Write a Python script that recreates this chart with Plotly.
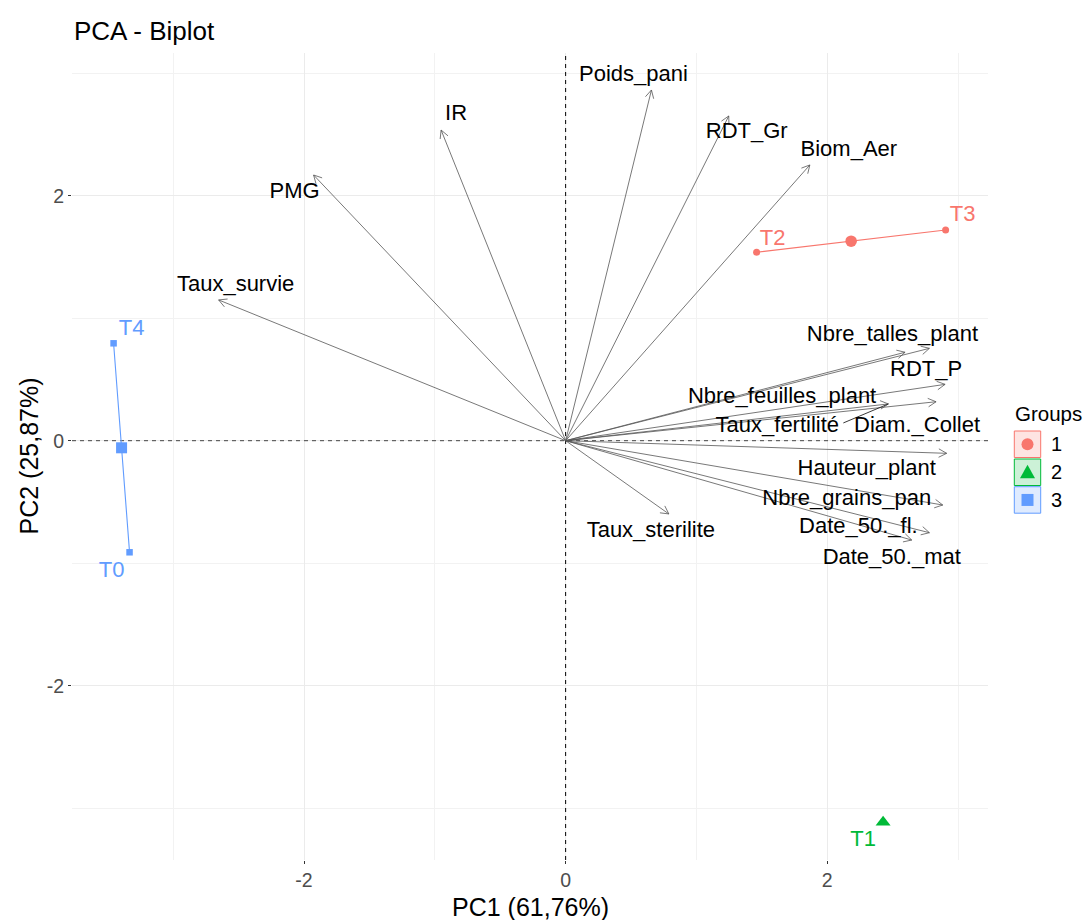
import numpy as np
import plotly.graph_objects as go

# ---------------- data ----------------
ind_names = ["T0", "T1", "T2", "T3", "T4"]
ind_pc1 = [-3.334, 2.427, 1.460, 2.905, -3.456]
ind_pc2 = [-0.911, -3.115, 1.538, 1.720, 0.795]
ind_group = [3, 2, 1, 1, 3]

var_names = ["Poids_pani", "RDT_Gr", "Biom_Aer", "IR", "PMG", "Taux_survie",
             "Nbre_talles_plant", "RDT_P", "Nbre_feuilles_plant", "Taux_fertilité",
             "Diam._Collet", "Hauteur_plant", "Nbre_grains_pan", "Date_50._fl.",
             "Date_50._mat", "Taux_sterilite"]
var_pc1 = [0.656, 1.247, 1.867, -0.952, -1.927, -2.653,
           2.781, 2.901, 2.595, 2.467,
           2.832, 2.913, 2.883, 2.781,
           2.646, 0.789]
var_pc2 = [2.863, 2.651, 2.251, 2.536, 2.169, 1.149,
           0.754, 0.460, 0.722, 0.300,
           0.318, -0.103, -0.525, -0.751,
           -0.811, -0.598]

groups = [1, 2, 3]
group_colors = {1: "#F8766D", 2: "#00BA38", 3: "#619CFF"}
group_fills = {1: "#FEE4E2", 2: "#CCF1D7", 3: "#DFEBFF"}
group_symbols = {1: "circle", 2: "triangle-up", 3: "square"}

tick_vals = [-2, 0, 2]
tick_text = ["-2", "0", "2"]

x_title = "PC1 (61,76%)"
y_title = "PC2 (25,87%)"
title = "PCA - Biplot"

# ---------------- layout geometry ----------------
W, H = 1086, 920
L, R, T, B = 72, 98, 53, 60
XR = [-3.774, 3.229]
YR = [-3.423, 3.165]
pw, ph = W - L - R, H - T - B
sx = pw / (XR[1] - XR[0])   # px per unit
sy = ph / (YR[1] - YR[0])

# label offsets in pixels (dx right, dy down) relative to the point / arrow tip
var_label_off = {
    "Poids_pani": (-18, -14), "RDT_Gr": (18, 17), "Biom_Aer": (39, -14),
    "IR": (15, -16), "PMG": (-19, 17), "Taux_survie": (17, -14),
    "Nbre_talles_plant": (-37, -13), "RDT_P": (-19, -14),
    "Nbre_feuilles_plant": (-123, 45), "Taux_fertilité": (-111, 23),
    "Diam._Collet": (-19, 25), "Hauteur_plant": (-80, 16),
    "Nbre_grains_pan": (-96, -6), "Date_50._fl.": (-71, -5),
    "Date_50._mat": (-20, 18), "Taux_sterilite": (-18, 18),
}
ind_label_off = {"T0": (-18, 19), "T1": (-20, 18), "T2": (16, -13),
                 "T3": (17, -15), "T4": (18, -14)}
repel_segments = {"Taux_fertilité": (-45, 19)}

FONT = "Liberation Sans, Arial, sans-serif"


def off(x, y, d):
    return x + d[0] / sx, y - d[1] / sy


def px2paper(px, py):
    return (px - L) / pw, (H - B - py) / ph


fig = go.Figure()

# dashed reference lines (drawn first, under everything else)
fig.add_trace(go.Scatter(x=[0, 0], y=YR, mode="lines",
                         line=dict(color="black", width=1, dash="4px,4px"),
                         hoverinfo="skip", showlegend=False))
fig.add_trace(go.Scatter(x=XR, y=[0, 0], mode="lines",
                         line=dict(color="#444444", width=1, dash="4px,4px"),
                         hoverinfo="skip", showlegend=False))

# variable arrows (lines + open heads)
ax_, ay_ = [], []
head_len, ang = 9.0, np.deg2rad(28)
for vx, vy in zip(var_pc1, var_pc2):
    ax_ += [0, vx, None]
    ay_ += [0, vy, None]
    ux, uy = vx * sx, vy * sy
    n = np.hypot(ux, uy)
    ux, uy = ux / n, uy / n
    for s in (1, -1):
        c, si = np.cos(s * ang), np.sin(s * ang)
        rx, ry = ux * c - uy * si, ux * si + uy * c
        hx = vx - head_len * rx / sx
        hy = vy - head_len * ry / sy
        ax_ += [hx, vx, None]
        ay_ += [hy, vy, None]
fig.add_trace(go.Scatter(x=ax_, y=ay_, mode="lines",
                         line=dict(color="#555555", width=0.8),
                         hoverinfo="skip", showlegend=False))

# repel segment(s)
for name, d in repel_segments.items():
    i = var_names.index(name)
    x2, y2 = off(var_pc1[i], var_pc2[i], d)
    fig.add_trace(go.Scatter(x=[var_pc1[i], x2], y=[var_pc2[i], y2], mode="lines",
                             line=dict(color="#222222", width=0.9),
                             hoverinfo="skip", showlegend=False))

# variable labels
lx, ly = [], []
for n_, vx, vy in zip(var_names, var_pc1, var_pc2):
    a, b = off(vx, vy, var_label_off[n_])
    lx.append(a)
    ly.append(b)
fig.add_trace(go.Scatter(x=lx, y=ly, mode="text", text=var_names,
                         textposition="middle center",
                         textfont=dict(family=FONT, size=22, color="black"),
                         hoverinfo="skip", showlegend=False))

# individuals per group
for g in groups:
    idx = [i for i, gg in enumerate(ind_group) if gg == g]
    xs = [ind_pc1[i] for i in idx]
    ys = [ind_pc2[i] for i in idx]
    col = group_colors[g]
    if len(idx) > 1:
        fig.add_trace(go.Scatter(x=xs + [xs[0]], y=ys + [ys[0]], mode="lines",
                                 line=dict(color=col, width=1.1),
                                 hoverinfo="skip", showlegend=False))
    size = 13 if g == 2 else (7 if g == 1 else 6.5)
    fig.add_trace(go.Scatter(x=xs, y=ys, mode="markers",
                             marker=dict(color=col, symbol=group_symbols[g], size=size,
                                         line=dict(width=0)),
                             hoverinfo="skip", showlegend=False))
    if len(idx) > 1:
        fig.add_trace(go.Scatter(x=[float(np.mean(xs))], y=[float(np.mean(ys))], mode="markers",
                                 marker=dict(color=col, symbol=group_symbols[g],
                                             size=11.5 if g == 1 else 11, line=dict(width=0)),
                                 hoverinfo="skip", showlegend=False))
    tx, ty = [], []
    for i in idx:
        a, b = off(ind_pc1[i], ind_pc2[i], ind_label_off[ind_names[i]])
        tx.append(a)
        ty.append(b)
    fig.add_trace(go.Scatter(x=tx, y=ty, mode="text", text=[ind_names[i] for i in idx],
                             textposition="middle center",
                             textfont=dict(family=FONT, size=22, color=col),
                             hoverinfo="skip", showlegend=False))

# ---------------- manual legend ----------------
shapes = []
annots = []
annots.append(dict(text="Groups", x=px2paper(1013, 0)[0], y=px2paper(0, 413)[1],
                   xref="paper", yref="paper", xanchor="left", yanchor="middle",
                   showarrow=False, font=dict(family=FONT, size=20.5, color="black")))
key_tops = [431, 459, 486.7]
key_h = 26.5
kx0, kx1 = 1014.3, 1040.7
for g, top in zip(groups, key_tops):
    x0, y1 = px2paper(kx0, top)
    x1, y0 = px2paper(kx1, top + key_h)
    shapes.append(dict(type="rect", xref="paper", yref="paper", x0=x0, x1=x1, y0=y0, y1=y1,
                       fillcolor=group_fills[g], line=dict(color=group_colors[g], width=1)))
    cx, cy = (kx0 + kx1) / 2, top + key_h / 2
    if group_symbols[g] == "circle":
        a0, b1 = px2paper(cx - 6, cy - 6)
        a1, b0 = px2paper(cx + 6, cy + 6)
        shapes.append(dict(type="circle", xref="paper", yref="paper", x0=a0, x1=a1, y0=b0, y1=b1,
                           fillcolor=group_colors[g], line=dict(width=0)))
    elif group_symbols[g] == "square":
        a0, b1 = px2paper(cx - 6, cy - 6)
        a1, b0 = px2paper(cx + 6, cy + 6)
        shapes.append(dict(type="rect", xref="paper", yref="paper", x0=a0, x1=a1, y0=b0, y1=b1,
                           fillcolor=group_colors[g], line=dict(width=0)))
    else:
        p1 = px2paper(cx, cy - 7.5)
        p2 = px2paper(cx - 7.5, cy + 6)
        p3 = px2paper(cx + 7.5, cy + 6)
        path = "M {} {} L {} {} L {} {} Z".format(p1[0], p1[1], p2[0], p2[1], p3[0], p3[1])
        shapes.append(dict(type="path", xref="paper", yref="paper", path=path,
                           fillcolor=group_colors[g], line=dict(width=0)))
    annots.append(dict(text=str(g), x=px2paper(1049, 0)[0], y=px2paper(0, cy)[1],
                       xref="paper", yref="paper", xanchor="left", yanchor="middle",
                       showarrow=False, font=dict(family=FONT, size=20, color="black")))

# title and axis titles
annots.append(dict(text=title, x=px2paper(72, 0)[0], y=px2paper(0, 31)[1], xref="paper", yref="paper",
                   xanchor="left", yanchor="middle", showarrow=False,
                   font=dict(family=FONT, size=26, color="black")))
annots.append(dict(text=x_title, x=0.5, y=px2paper(0, 907)[1], xref="paper", yref="paper",
                   xanchor="center", yanchor="middle", showarrow=False,
                   font=dict(family=FONT, size=25, color="black")))
annots.append(dict(text=y_title, x=px2paper(28, 0)[0], y=0.5, xref="paper", yref="paper",
                   xanchor="center", yanchor="middle", showarrow=False, textangle=-90,
                   font=dict(family=FONT, size=25, color="black")))

fig.update_layout(
    width=W, height=H,
    margin=dict(l=L, r=R, t=T, b=B),
    paper_bgcolor="white", plot_bgcolor="white",
    shapes=shapes,
    annotations=annots,
    showlegend=False,
)
axis_common = dict(
    showgrid=True, gridcolor="#EBEBEB", gridwidth=1.1, zeroline=False,
    showline=False, ticks="outside", ticklen=3, tickwidth=1, tickcolor="#333333",
    tickmode="array", tickvals=tick_vals, ticktext=tick_text,
    tickfont=dict(family=FONT, size=19.5, color="#4D4D4D"),
    minor=dict(tickmode="linear", dtick=1, tick0=0, showgrid=True,
               gridcolor="#F2F2F2", gridwidth=0.8, ticks=""),
)
fig.update_xaxes(range=XR, **axis_common)
fig.update_yaxes(range=YR, **axis_common)

fig.write_html("out.html")
